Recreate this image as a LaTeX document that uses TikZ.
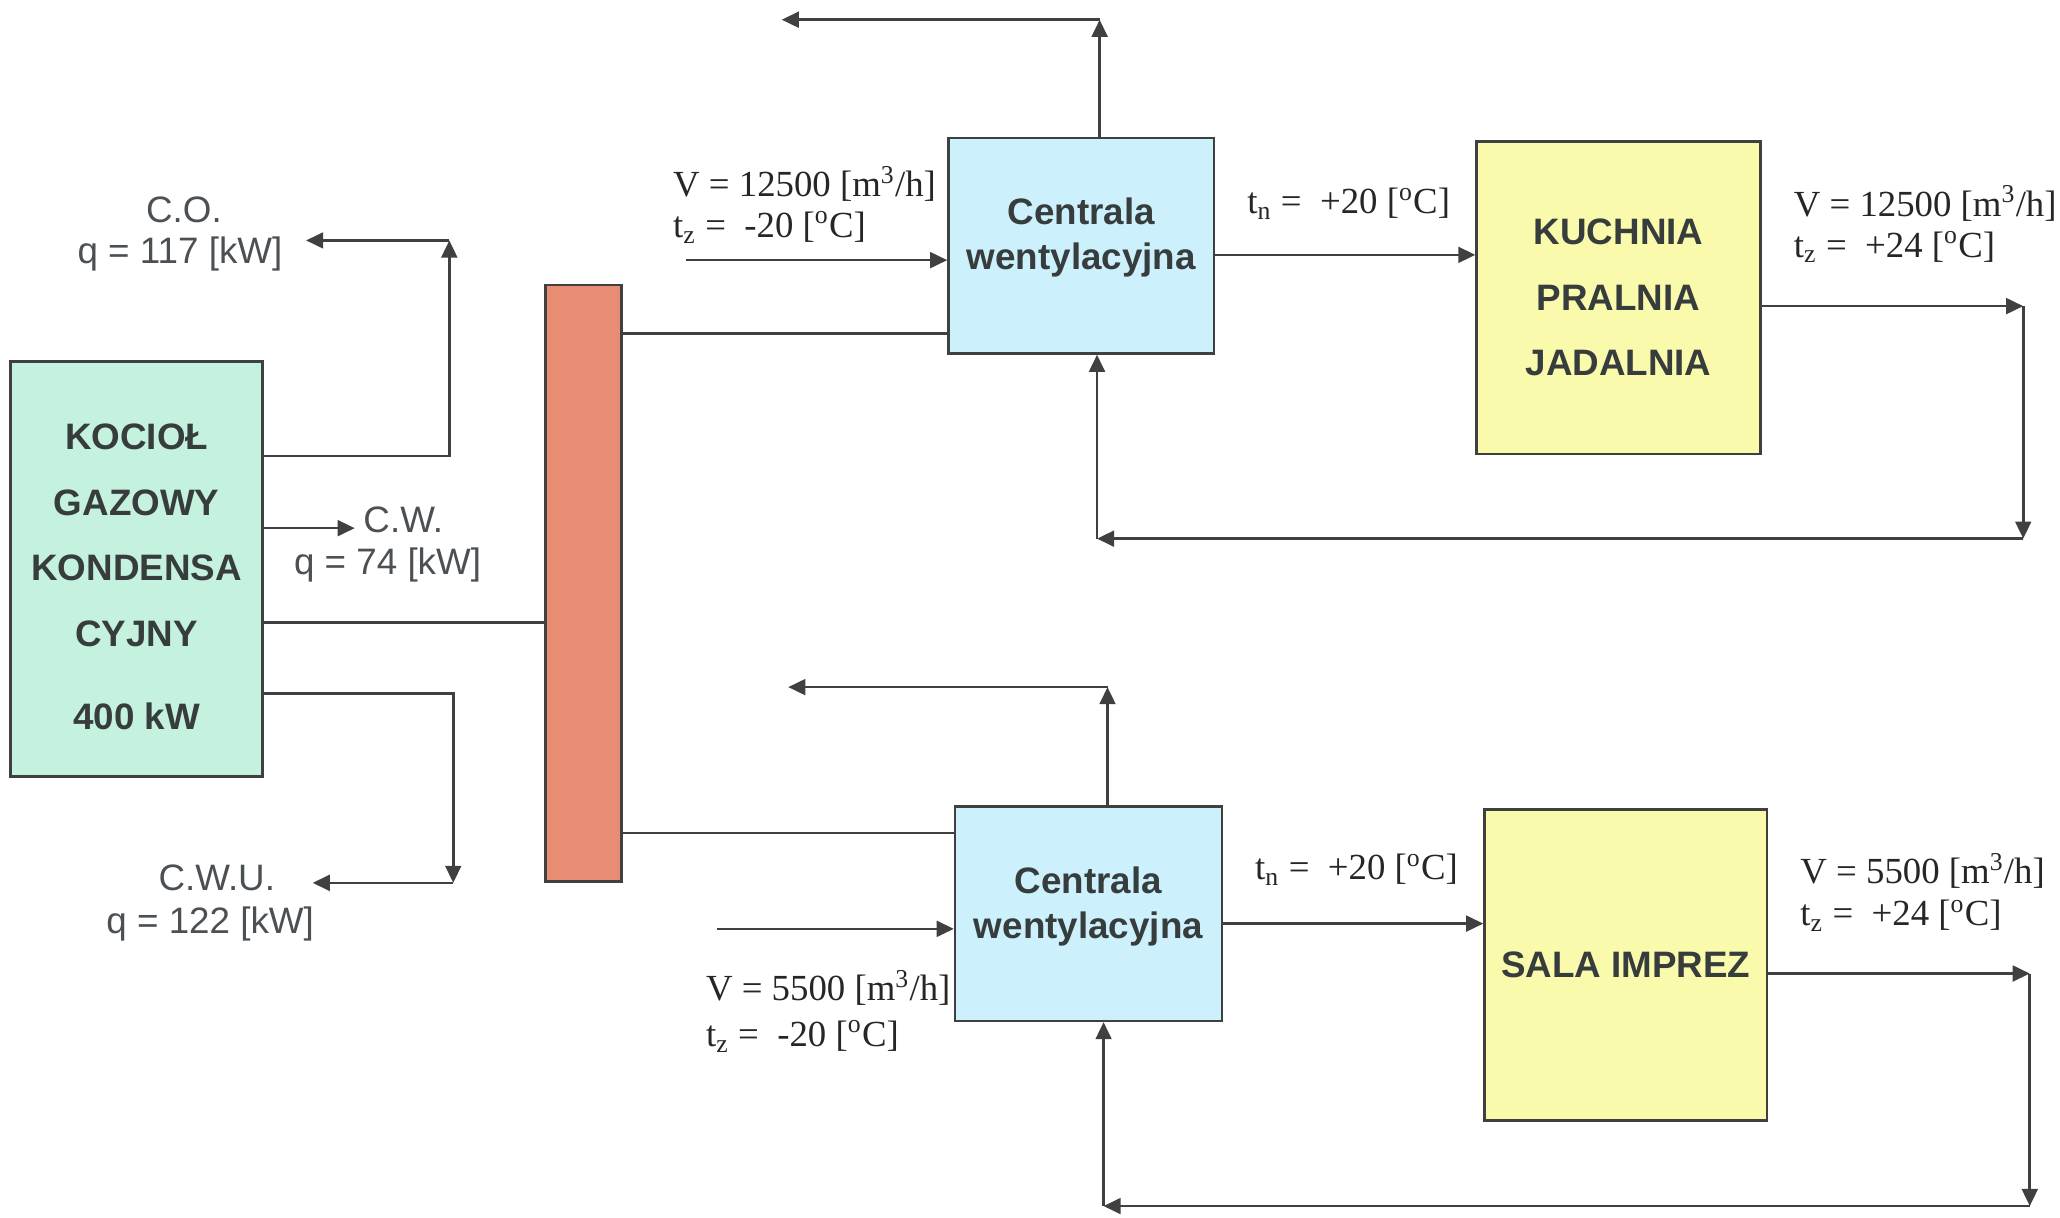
\documentclass[tikz,border=0pt]{standalone}
\usepackage{fontspec}
\setmainfont{Liberation Serif}
\newfontfamily\arialf{Liberation Sans}
\usetikzlibrary{arrows.meta}
\definecolor{linec}{RGB}{64,64,64}
\definecolor{boxtext}{RGB}{55,60,60}
\definecolor{labc}{RGB}{75,80,85}
\definecolor{boilerc}{RGB}{196,242,222}
\definecolor{barc}{RGB}{232,140,115}
\definecolor{centc}{RGB}{204,240,252}
\definecolor{yelc}{RGB}{250,250,172}
\begin{document}
\begin{tikzpicture}[x=0.5pt,y=-0.5pt,
  ln/.style={draw=linec, line width=1pt},
  arr/.style={ln, -{Triangle[length=6.5pt,width=6pt]}},
  boxtxt/.style={text=boxtext, align=center, inner sep=0pt, font=\arialf\bfseries\fontsize{14}{17}\selectfont},
  box/.style={draw=linec, line width=1pt, boxtxt},
  sans/.style={font=\arialf\fontsize{14}{16}\selectfont, text=labc, inner sep=0pt},
  lab/.style={font=\fontsize{14}{16}\selectfont, text=black!85, inner sep=0pt, anchor=west}
]
\useasboundingbox (0,0) rectangle (1568,927);

% boxes
\node[box, fill=boilerc, minimum width=96pt, minimum height=158pt,
  label={[boxtxt, yshift=-3pt, font=\arialf\bfseries\fontsize{14}{25}\selectfont]center:KOCIOŁ\\GAZOWY\\KONDENSA\\CYJNY\\[6.5pt]400 kW}] (boiler) at (104,433) {};
\node[draw=linec, line width=1pt, fill=barc, minimum width=29pt, minimum height=227pt, inner sep=0pt] (bar) at (444,444) {};
\node[box, fill=centc, minimum width=101pt, minimum height=82pt,
  label={[boxtxt, yshift=3pt]center:Centrala\\wentylacyjna}] (c1) at (823,187) {};
\node[box, fill=yelc, minimum width=108pt, minimum height=119pt,
  font=\arialf\bfseries\fontsize{14}{25}\selectfont] (k) at (1232,226.5) {KUCHNIA\\PRALNIA\\JADALNIA};
\node[box, fill=centc, minimum width=101.5pt, minimum height=81.5pt,
  label={[boxtxt, yshift=2.75pt]center:Centrala\\wentylacyjna}] (c2) at (828.5,695.5) {};
\node[box, fill=yelc, minimum width=107.5pt, minimum height=118.5pt] (s) at (1237.5,734.5) {SALA IMPREZ};

% boiler outputs
\coordinate (coS) at (342,347);
\coordinate (coT) at (342,183);
\coordinate (coE) at (233,183);
\draw[arr] (boiler.east |- coS) -| (coT);
\draw[arr] (coT) -- (coE);
\coordinate (cwE) at (270,402);
\draw[arr] (boiler.east |- cwE) -- (cwE);
\coordinate (mY) at (300,474);
\draw[ln] (boiler.east |- mY) -- (bar.west |- mY);
\coordinate (cwuS) at (345,528);
\coordinate (cwuC) at (345,672);
\coordinate (cwuE) at (238,672);
\draw[arr] (boiler.east |- cwuS) -| (cwuC);
\draw[arr] (cwuC) -- (cwuE);

\node[sans] (colab) at (140,160) {C.O.};
\node[sans] (coq) at (137,193) {q = 117 [kW]};
\node[sans] (cwlab) at (307,396) {C.W.};
\node[sans] (cwq) at (295,430) {q = 74 [kW]};
\node[sans] (cwulab) at (165,668) {C.W.U.};
\node[sans] (cwuq) at (160,703) {q = 122 [kW]};

% bar to centrals
\coordinate (b1) at (600,254);
\draw[ln] (bar.east |- b1) -- (c1.west |- b1);
\coordinate (b2) at (600,634);
\draw[ln] (bar.east |- b2) -- (c2.west |- b2);

% top system
\coordinate (u1) at (837,15);
\coordinate (u1e) at (595,15);
\draw[arr] (c1.north -| u1) -- (u1);
\draw[arr] (u1) -- (u1e);
\coordinate (in1) at (522,198);
\draw[arr] (in1) -- (c1.west |- in1);
\coordinate (t1) at (1000,194);
\draw[arr] (c1.east |- t1) -- (k.west |- t1);
\coordinate (r1) at (1540,233);
\draw[arr] (k.east |- r1) -- (r1);
\coordinate (r1b) at (1540,410);
\draw[arr] (r1) -- (r1b);
\coordinate (l1) at (835,410);
\draw[arr] (r1b) -- (l1);
\draw[arr] (l1) -- (c1.south -| l1);

\node[lab] (v1) at (512,140) {V = 12500 [m\textsuperscript{3}/h]};
\node[lab] (tz1) at (512,173) {t\textsubscript{z} =\ \ -20 [\textsuperscript{o}C]};
\node[lab] (tn1) at (949,155) {t\textsubscript{n} =\ \ +20 [\textsuperscript{o}C]};
\node[lab] (v1r) at (1365,155) {V = 12500 [m\textsuperscript{3}/h]};
\node[lab] (tz1r) at (1365,188) {t\textsubscript{z} =\ \ +24 [\textsuperscript{o}C]};

% bottom system
\coordinate (u2) at (843,523);
\coordinate (u2e) at (600,523);
\draw[arr] (c2.north -| u2) -- (u2);
\draw[arr] (u2) -- (u2e);
\coordinate (in2) at (546,707);
\draw[arr] (in2) -- (c2.west |- in2);
\coordinate (t2) at (1000,703);
\draw[arr] (c2.east |- t2) -- (s.west |- t2);
\coordinate (r2) at (1545,741);
\draw[arr] (s.east |- r2) -- (r2);
\coordinate (r2b) at (1545,918);
\draw[arr] (r2) -- (r2b);
\coordinate (l2) at (840,918);
\draw[arr] (r2b) -- (l2);
\draw[arr] (l2) -- (c2.south -| l2);

\node[lab] (v2) at (537,752) {V = 5500 [m\textsuperscript{3}/h]};
\node[lab] (tz2) at (537,789) {t\textsubscript{z} =\ \ -20 [\textsuperscript{o}C]};
\node[lab] (tn2) at (955,662) {t\textsubscript{n} =\ \ +20 [\textsuperscript{o}C]};
\node[lab] (v2r) at (1370,663) {V = 5500 [m\textsuperscript{3}/h]};
\node[lab] (tz2r) at (1370,697) {t\textsubscript{z} =\ \ +24 [\textsuperscript{o}C]};
\end{tikzpicture}
\end{document}
